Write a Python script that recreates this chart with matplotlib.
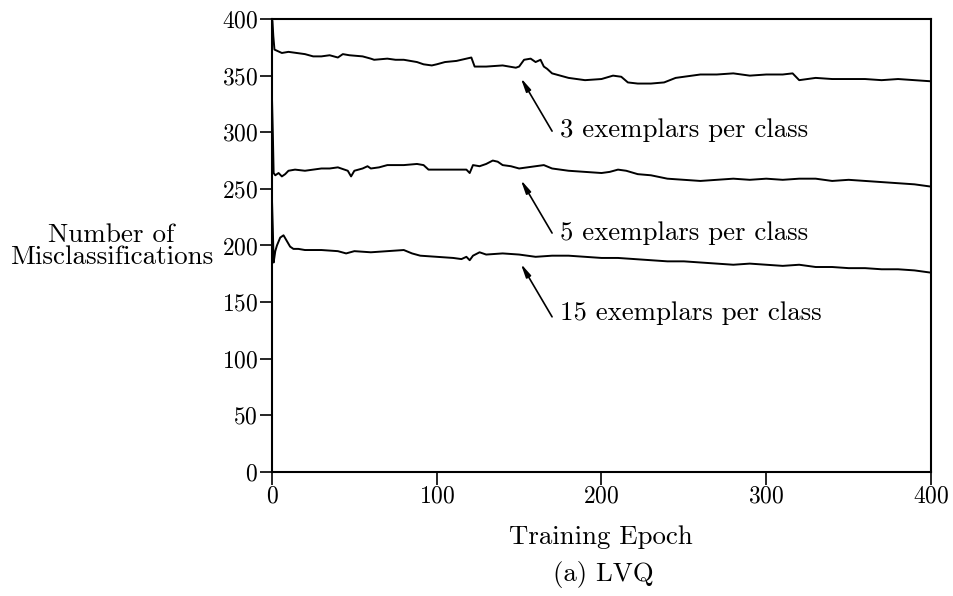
import matplotlib
matplotlib.use("Agg")
import matplotlib.pyplot as plt

plt.rcParams['font.family'] = ['cmr10', 'DejaVu Serif']
plt.rcParams['axes.formatter.use_mathtext'] = True
plt.rcParams['mathtext.fontset'] = 'cm'

# 3 exemplars per class
epochs_3 = [0, 0.3, 0.8, 1.5, 3, 6, 10, 15, 20, 25, 30, 35, 40, 43, 47, 55, 60, 62,
            70, 75, 80, 88, 92, 97, 100, 105, 112, 118, 121, 123, 130, 140, 148, 150,
            153, 157, 160, 163, 165, 167, 170, 175, 180, 190, 200, 207, 212, 216, 222,
            230, 238, 245, 250, 260, 270, 280, 290, 300, 310, 316, 320, 330, 340, 350,
            360, 370, 380, 390, 400]
values_3 = [400, 398, 385, 373, 372, 370, 371, 370, 369, 367, 367, 368, 366, 369, 368, 367, 365, 364,
            365, 364, 364, 362, 360, 359, 360, 362, 363, 365, 366, 358, 358, 359, 357, 358,
            364, 365, 362, 364, 358, 356, 352, 350, 348, 346, 347, 350, 349, 344, 343,
            343, 344, 348, 349, 351, 351, 352, 350, 351, 351, 352, 346, 348, 347, 347,
            347, 346, 347, 346, 345]

# 5 exemplars per class
epochs_5 = [0, 0.5, 1, 2, 4, 6, 8, 10, 14, 20, 25, 30, 35, 40, 46, 48, 50, 55, 58, 60,
            65, 70, 80, 88, 92, 95, 100, 110, 118, 120, 122, 126, 130, 134, 137, 140, 145,
            150, 155, 160, 165, 170, 180, 190, 200, 205, 210, 215, 222, 230, 240, 250,
            260, 270, 280, 290, 300, 310, 320, 330, 340, 350, 360, 370, 380, 390, 400]
values_5 = [330, 300, 264, 262, 264, 261, 263, 266, 267, 266, 267, 268, 268, 269, 266, 261, 266, 268, 270, 268,
            269, 271, 271, 272, 271, 267, 267, 267, 267, 264, 271, 270, 272, 275, 274, 271, 270,
            268, 269, 270, 271, 268, 266, 265, 264, 265, 267, 266, 263, 262, 259, 258,
            257, 258, 259, 258, 259, 258, 259, 259, 257, 258, 257, 256, 255, 254, 252]

# 15 exemplars per class
epochs_15 = [0, 0.5, 1, 2, 3, 5, 7, 9, 11, 13, 16, 20, 30, 40, 45, 50, 60, 70, 80, 85,
             90, 100, 110, 115, 118, 120, 122, 126, 130, 140, 150, 160, 170, 180, 190, 200,
             210, 220, 230, 240, 250, 260, 270, 280, 290, 300, 310, 320, 330, 340, 350,
             360, 370, 380, 390, 400]
values_15 = [240, 215, 185, 195, 200, 207, 209, 204, 199, 197, 197, 196, 196, 195, 193, 195, 194, 195, 196, 193,
             191, 190, 189, 188, 190, 187, 191, 194, 192, 193, 192, 190, 191, 191, 190, 189,
             189, 188, 187, 186, 186, 185, 184, 183, 184, 183, 182, 183, 181, 181, 180,
             180, 179, 179, 178, 176]

labels = ['3 exemplars per class', '5 exemplars per class', '15 exemplars per class']
arrow_tips = [(151, 348), (151, 258), (151, 184)]
arrow_tails = [(170, 301), (170, 211), (170, 137)]
label_pos = [(175, 302), (175, 211), (175, 140)]

fig = plt.figure(figsize=(9.54, 5.96), dpi=100)
ax = fig.add_axes([0.2851, 0.2081, 0.6908, 0.7600])

for ep, val in [(epochs_3, values_3), (epochs_5, values_5), (epochs_15, values_15)]:
    ax.plot(ep, val, color='black', lw=1.4)

for lab, tip, tail, pos in zip(labels, arrow_tips, arrow_tails, label_pos):
    ax.annotate('', xy=tip, xytext=tail,
                arrowprops=dict(arrowstyle='-|>,head_length=0.8,head_width=0.16',
                                color='black', lw=1.2, shrinkA=0, shrinkB=0))
    ax.text(pos[0], pos[1], lab, ha='left', va='center', fontsize=19.3)

ax.set_xlim(0, 400)
ax.set_ylim(0, 400)
ax.set_xticks([0, 100, 200, 300, 400])
ax.set_yticks(range(0, 401, 50))
ax.tick_params(direction='out', length=9, width=1.2, labelsize=17, pad=1)
for s in ax.spines.values():
    s.set_linewidth(1.5)

fig.text(0.63, 0.099, 'Training Epoch', ha='center', va='center', fontsize=19.3)
fig.text(0.117, 0.587, 'Number of\nMisclassifications', ha='center', va='center',
         fontsize=19.5, linespacing=0.9)
fig.text(0.632, 0.036, '(a) LVQ', ha='center', va='center', fontsize=19.3)

fig.savefig('out.png', dpi=100)
